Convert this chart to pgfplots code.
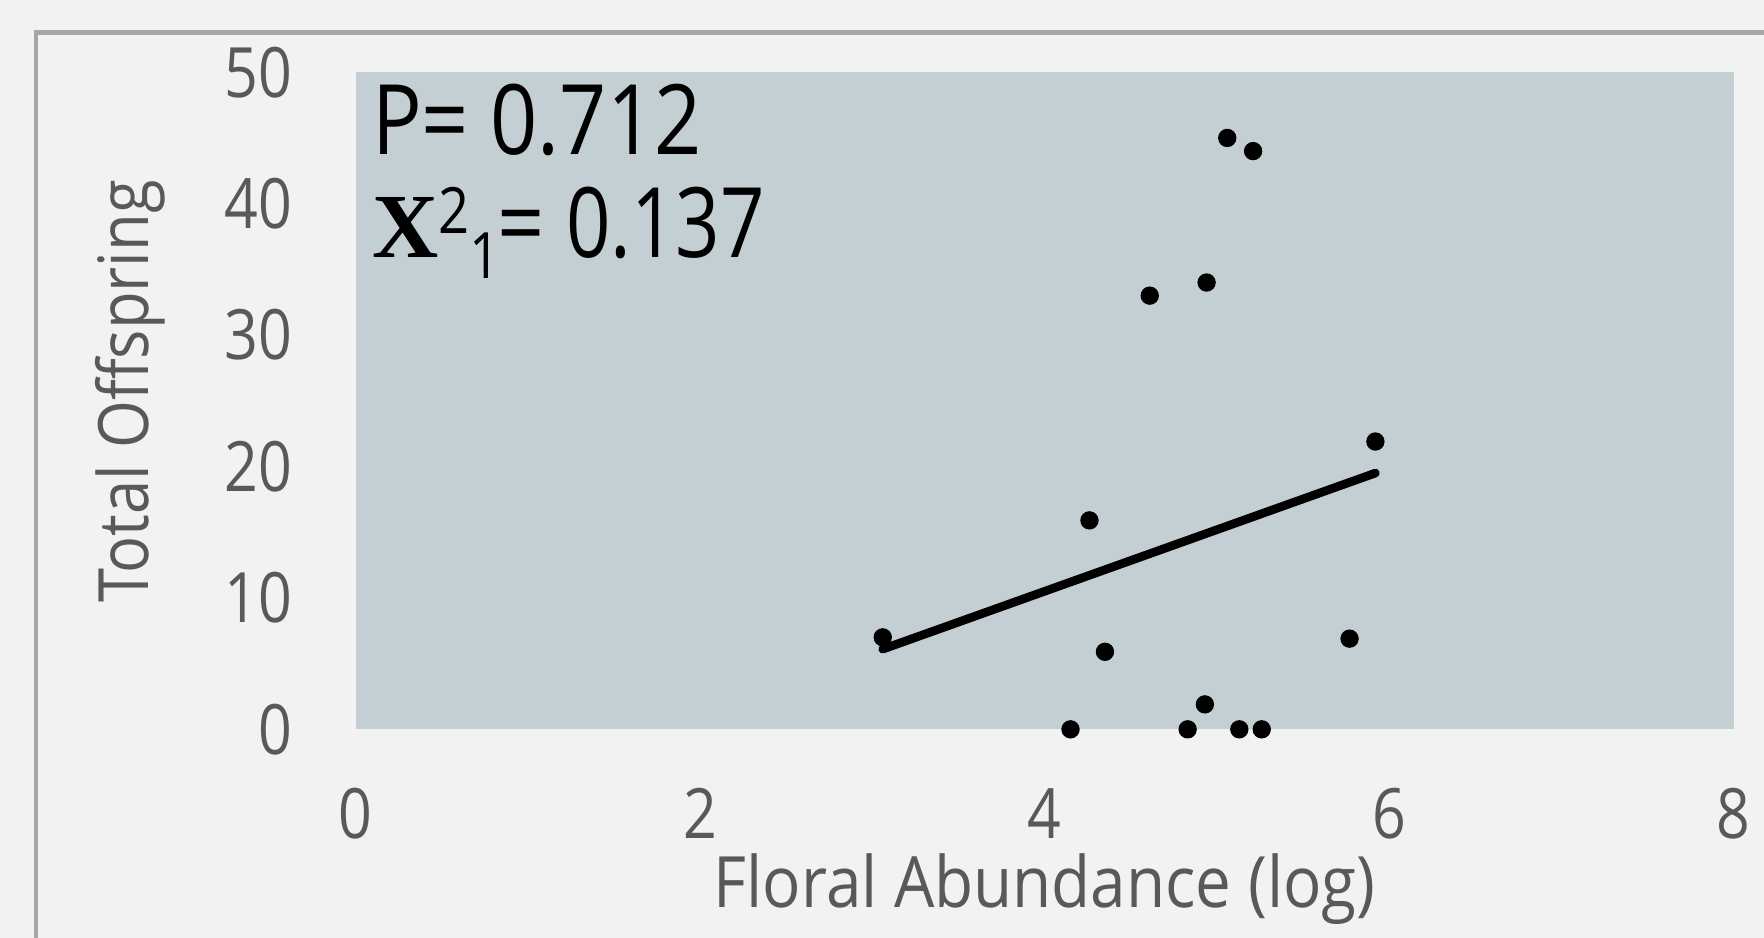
\documentclass[border=0pt]{standalone}
\usepackage{fontspec}
\setmainfont{Open Sans}[FakeStretch=0.85]
\newfontfamily\labA{Open Sans}[FakeStretch=0.9]
\newfontfamily\labB{Open Sans}[FakeStretch=0.885]
\newfontfamily\labC{Open Sans}[FakeStretch=0.8]
\newfontfamily\serifx{Liberation Serif}
\usepackage{pgfplots}
\pgfplotsset{compat=1.18}
\definecolor{bgc}{HTML}{F2F2F2}
\definecolor{plotbg}{HTML}{C4CFD4}
\definecolor{framec}{HTML}{A6A6A6}
\definecolor{txt}{HTML}{595959}
\begin{document}
\begin{tikzpicture}
\fill[bgc, use as bounding box] (-128pt,-75pt) rectangle (506.9pt,262.5pt);
\draw[framec, line width=1.6pt] (-115pt,-90pt) |- (520pt,250.8pt);
\begin{axis}[at={(0,0)}, anchor=south west, scale only axis,
  width=496pt, height=236.5pt,
  xmin=0, xmax=8, ymin=0, ymax=50,
  xtick={0,2,4,6,8}, ytick={0,10,20,30,40,50},
  axis line style={draw=none}, tick style={draw=none},
  axis background/.style={fill=plotbg},
  clip=false,
  /pgf/number format/assume math mode=true,
  ticklabel style={font=\fontsize{25}{30}\selectfont, text=txt, inner sep=0pt},
  xticklabel style={anchor=base, yshift=-39.3pt},
  yticklabel style={anchor=east, xshift=-22.7pt},
]
\addplot[only marks, mark=*, mark size=3.1pt, black] coordinates {
(3.06,7) (4.15,0) (4.26,15.9) (4.35,5.9) (4.61,33) (4.83,0) (4.93,1.9)
(4.94,34) (5.06,45) (5.13,0) (5.21,44) (5.26,0) (5.77,6.9) (5.92,21.9)
};
\addplot[black, line width=3.1pt, line cap=round] coordinates {(3.06,6.1) (5.92,19.5)};
\end{axis}
\node[anchor=base, inner sep=0pt, text=txt, font=\labA\fontsize{25.5}{30}\selectfont] at (248pt,-64pt) {Floral Abundance (log)};
\node[rotate=90, anchor=base, inner sep=0pt, text=txt, font=\labB\fontsize{25}{30}\selectfont] at (-74.5pt,121.6pt) {Total Offspring};
\node[anchor=base west, inner sep=0pt, font=\fontsize{35}{40}\selectfont] at (5.7pt,206.9pt) {P= 0.712};
\node[anchor=base west, inner sep=0pt, font=\fontsize{35}{40}\selectfont] at (5.7pt,169.7pt) {{\serifx\bfseries\fontsize{33}{38}\selectfont X}\raisebox{8.6pt}{\fontsize{23}{26}\selectfont 2}\raisebox{-7.5pt}{\fontsize{23}{26}\selectfont 1}\kern-1pt= {\labC 0.137}};
\end{tikzpicture}
\end{document}
